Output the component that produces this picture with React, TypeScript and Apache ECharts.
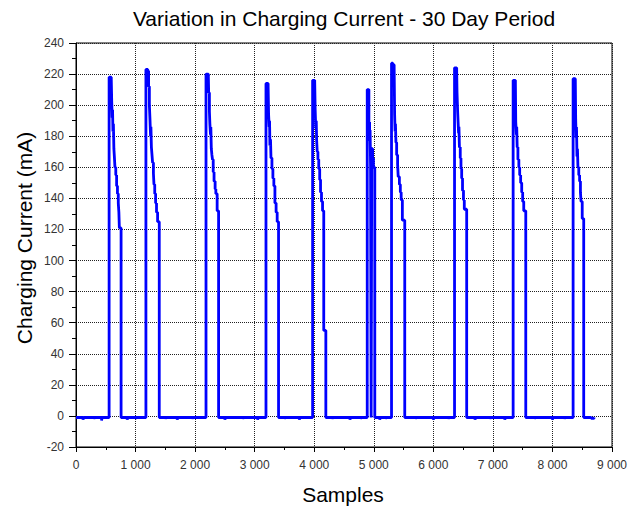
import React, { useEffect, useRef } from "react";
import * as echarts from "echarts";

// ---- Data (sample index, charging current in mA) ----
const baseline: [number, number][] = [
  [0, -1], [118, -2.5], [126, -1], [300, -2], [306, -1], [430, -3], [436, -1],
  [860, -2.5], [866, -1], [1000, -2], [1006, -1], [1500, -2], [1506, -1],
  [1700, -2.5], [1706, -1], [1950, -2], [1956, -1], [2500, -2.5], [2506, -1],
  [2800, -2], [2806, -1], [3050, -2.5], [3056, -1], [3500, -2], [3506, -1],
  [3750, -2.5], [3756, -1], [4300, -2], [4306, -1], [4600, -2.5], [4606, -1],
  [4780, -2], [4786, -1], [5100, -2.5], [5106, -1], [5200, -2], [5206, -1],
  [5700, -2], [5706, -1], [6000, -2.5], [6006, -1], [6250, -2], [6256, -1],
  [6700, -2.5], [6706, -1], [6950, -2], [6956, -1], [7200, -2.5], [7206, -1],
  [7700, -2], [7706, -1], [8000, -2.5], [8006, -1], [8200, -2], [8206, -1],
  [8650, -1.5], [8700, -1],
];

const pulse1: [number, number][] = [
  [556, 218], [592, 217], [600, 202], [608, 192], [614, 197], [620, 183], [628, 188],
  [636, 172], [644, 167], [654, 160], [668, 155], [682, 148], [696, 143], [710, 137],
  [720, 131], [728, 121], [757, -1],
];
const pulse2: [number, number][] = [
  [1174, 223], [1205, 222], [1219, 212], [1232, 200], [1242, 191], [1252, 180],
  [1258, 186], [1266, 173], [1276, 168], [1286, 163], [1300, 156], [1309, 149],
  [1322, 143], [1337, 137], [1352, 131], [1370, 125], [1398, -1],
];
const pulse3: [number, number][] = [
  [2183, 220], [2222, 219], [2228, 208], [2240, 196], [2248, 188], [2258, 181],
  [2264, 186], [2272, 172], [2282, 168], [2292, 165], [2304, 157], [2318, 151],
  [2336, 146], [2348, 143], [2370, 132], [2394, -1],
];
const pulse4: [number, number][] = [
  [3190, 214], [3226, 212], [3234, 194], [3244, 186], [3250, 190], [3256, 174],
  [3266, 178], [3274, 166], [3290, 159], [3306, 153], [3322, 148], [3340, 137],
  [3360, 131], [3378, 125], [3401, -1],
];
const pulse5: [number, number][] = [
  [3973, 216], [4008, 215], [4016, 197], [4026, 185], [4034, 190], [4040, 178],
  [4050, 170], [4062, 165], [4076, 159], [4092, 152], [4106, 144], [4122, 138],
  [4140, 132], [4160, 55], [4195, -1],
];
const pulse6: [number, number][] = [
  [4890, 210], [4918, 189], [4930, 177], [4938, 184], [4946, 161], [4956, -1],
  [4966, 172], [4980, 166], [4994, 160], [5017, -1],
];
const pulse7: [number, number][] = [
  [5298, 227], [5320, 226], [5342, 225], [5350, 194], [5358, 183], [5364, 188],
  [5372, 176], [5384, 168], [5400, 162], [5410, 154], [5430, 149], [5446, 144],
  [5460, 139], [5480, 126], [5520, -1],
];
const pulse8: [number, number][] = [
  [6356, 224], [6392, 222], [6398, 208], [6408, 196], [6416, 189], [6424, 182],
  [6430, 186], [6438, 173], [6452, 166], [6464, 159], [6476, 153], [6490, 145],
  [6506, 139], [6520, 133], [6560, -1],
];
const pulse9: [number, number][] = [
  [7340, 216], [7378, 214], [7384, 189], [7394, 181], [7400, 186], [7408, 173],
  [7420, 165], [7436, 160], [7450, 155], [7466, 150], [7484, 144], [7500, 138],
  [7518, 132], [7552, -1],
];
const pulse10: [number, number][] = [
  [8347, 217], [8384, 216], [8390, 191], [8398, 179], [8404, 186], [8412, 167],
  [8420, 172], [8428, 160], [8442, 155], [8456, 151], [8470, 144], [8480, 138],
  [8500, 127], [8525, -1],
];

const pulses = [pulse1, pulse2, pulse3, pulse4, pulse5, pulse6, pulse7, pulse8, pulse9, pulse10];

const X_MIN = 0, X_MAX = 9000, X_STEP = 1000;
const Y_MIN = -20, Y_MAX = 240, Y_STEP = 20;

const TITLE = "Variation in Charging Current - 30 Day Period";
const X_NAME = "Samples";
const Y_NAME = "Charging Current (mA)";

const FONT = "'Liberation Sans', Arial, sans-serif";

export default function App() {
  const ref = useRef<HTMLDivElement>(null);

  useEffect(() => {
    if (!ref.current) return;
    const chart = echarts.init(ref.current, undefined, { renderer: "svg" });

    const data = [...baseline, ...pulses.flat()].sort((a, b) => a[0] - b[0]);

    const fmtX = (v: number) =>
      v >= 1000 ? `${Math.floor(v / 1000)} ${String(v % 1000).padStart(3, "0")}` : `${v}`;

    chart.setOption({
      animation: false,
      backgroundColor: "#ffffff",
      grid: {
        left: 76,
        right: 25,
        top: 43,
        bottom: 60,
        show: true,
        borderColor: "#000",
        borderWidth: 1,
        backgroundColor: "transparent",
      },
      xAxis: {
        type: "value",
        min: X_MIN,
        max: X_MAX,
        interval: X_STEP,
        axisLine: { onZero: false, lineStyle: { color: "#000", width: 1 } },
        axisTick: { show: true, length: 5, lineStyle: { color: "#000" } },
        minorTick: { show: true, splitNumber: 2, length: 3, lineStyle: { color: "#000" } },
        axisLabel: {
          formatter: fmtX,
          fontSize: 12,
          color: "#333",
          fontFamily: FONT,
          margin: 12,
          showMaxLabel: true,
          showMinLabel: true,
        },
        splitLine: { show: true, lineStyle: { color: "#222", type: [1, 1], width: 1 } },
      },
      yAxis: {
        type: "value",
        min: Y_MIN,
        max: Y_MAX,
        interval: Y_STEP,
        axisLine: { show: true, onZero: false, lineStyle: { color: "#000", width: 1 } },
        axisTick: { show: true, length: 7, lineStyle: { color: "#000" } },
        minorTick: { show: true, splitNumber: 2, length: 4, lineStyle: { color: "#000" } },
        axisLabel: {
          fontSize: 12,
          color: "#333",
          fontFamily: FONT,
          margin: 12,
          showMaxLabel: true,
          showMinLabel: true,
        },
        splitLine: { show: true, lineStyle: { color: "#222", type: [1, 1], width: 1 } },
      },
      series: [
        {
          type: "line",
          data,
          step: "end",
          showSymbol: false,
          symbol: "none",
          lineStyle: { color: "#0000ff", width: 2.8 },
          itemStyle: { color: "#0000ff" },
          z: 5,
        },
      ],
      graphic: [
        {
          type: "text",
          x: 344,
          y: 18,
          style: {
            text: TITLE,
            fill: "#000",
            font: `21px ${FONT}`,
            textAlign: "center",
            textVerticalAlign: "middle",
          },
        },
        {
          type: "text",
          x: 343,
          y: 494,
          style: {
            text: X_NAME,
            fill: "#000",
            font: `21px ${FONT}`,
            textAlign: "center",
            textVerticalAlign: "middle",
          },
        },
        {
          type: "text",
          x: 24,
          y: 238,
          rotation: Math.PI / 2,
          style: {
            text: Y_NAME,
            fill: "#000",
            font: `21px ${FONT}`,
            textAlign: "center",
            textVerticalAlign: "middle",
          },
        },
      ],
    });

    return () => chart.dispose();
  }, []);

  return (
    <div
      ref={ref}
      style={{ position: "fixed", left: 0, top: 0, width: 637, height: 507, background: "#fff" }}
    />
  );
}
